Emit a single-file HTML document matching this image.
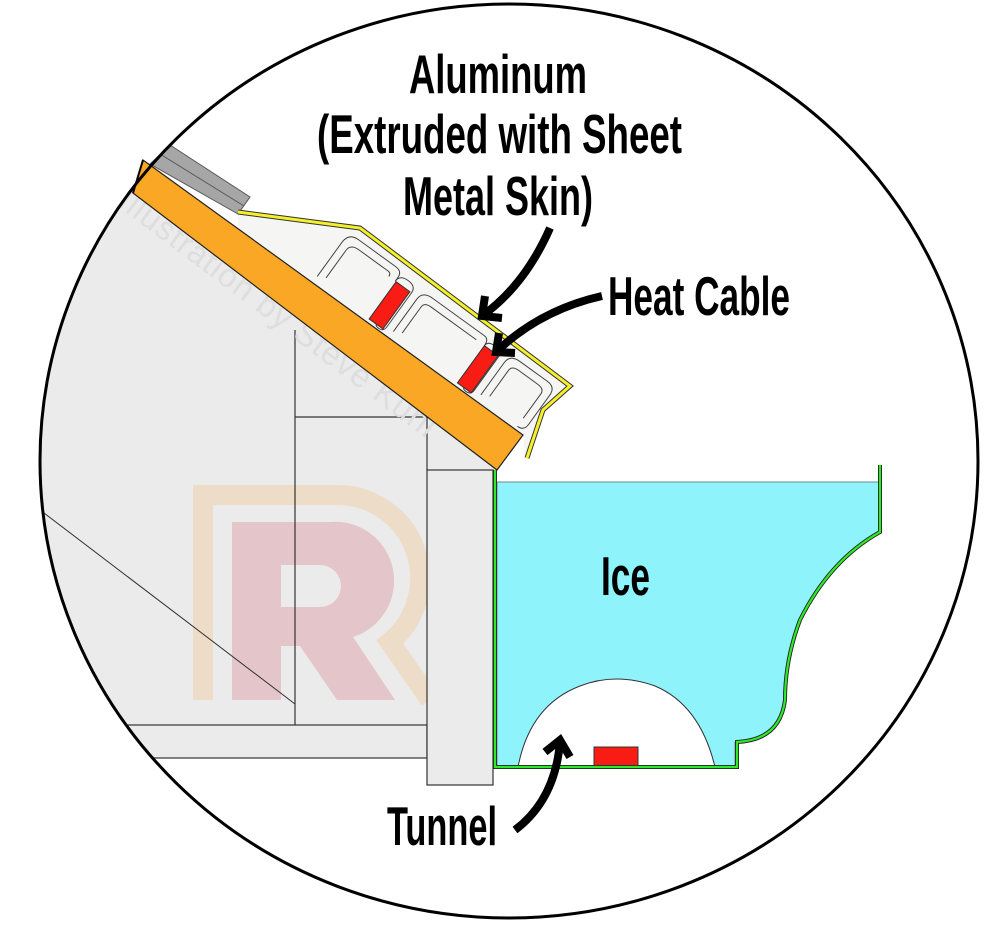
<!DOCTYPE html>
<html><head><meta charset="utf-8"><style>html,body{margin:0;padding:0;background:#fff}svg{display:block}</style></head>
<body>
<svg width="984" height="936" viewBox="0 0 984 936" xmlns="http://www.w3.org/2000/svg">
<defs>
<clipPath id="c"><ellipse cx="509" cy="461" rx="469" ry="457"/></clipPath>
</defs>
<g clip-path="url(#c)">
  <polygon points="0,100 143,160 497,470 427,470 427,758 0,758" fill="#ebebeb"/>
  <rect x="0" y="725" width="427" height="33" fill="#ebebeb" stroke="#333" stroke-width="1.2"/>
  <!-- watermark R -->
  <path d="M203,700 V495 H335 A83,83 0 0 1 390,642 L430,700" fill="none" stroke="#eddcc7" stroke-width="20"/>
  <path d="M232,700 V522 H330 A59,59 0 0 1 353,637 L395,700 H337 L300,646 H281 V700 Z M281,565 V607 H320 A21,21 0 0 0 320,565 Z" fill="#e3c5ca" fill-rule="evenodd"/>
  <line x1="295" y1="330" x2="295" y2="725" stroke="#333" stroke-width="1.2"/>
  <line x1="295" y1="417" x2="427" y2="417" stroke="#333" stroke-width="1.2"/>
  <line x1="427" y1="417" x2="427" y2="470" stroke="#333" stroke-width="1.2"/>
  <line x1="40" y1="510" x2="295" y2="704" stroke="#333" stroke-width="1"/>
  <rect x="427" y="470" width="66" height="315" fill="#ebebeb" stroke="#333" stroke-width="1.2"/>
</g>
<text x="0" y="0" transform="translate(116,205) rotate(37)" font-family="Liberation Sans, sans-serif" font-size="33" letter-spacing="1" fill="#dedede">Illustration by Steve Kuhl</text>
<!-- shingles -->
<polygon points="170,145 250,197 238,214 150,164" fill="#a6a6a6" stroke="#555" stroke-width="1"/>
<line x1="160" y1="154" x2="244" y2="206" stroke="#555" stroke-width="1"/>
<!-- gutter guard body -->
<polygon points="238,212 360,228 570,386 540,410 525,460 523,435 238,229" fill="#f5f5f3"/>
<polyline points="238,212 360,228 570,386 543,410 527,458" fill="none" stroke="#333" stroke-width="5"/>
<polyline points="238,212 360,228 570,386 543,410 527,458" fill="none" stroke="#f6f02a" stroke-width="3"/>
<!-- extrusion internals in local roof coords -->
<g transform="translate(238,229) rotate(35.9)">
  <g fill="none" stroke="#444" stroke-width="1">
    <path d="M92,-8 L92,-50 Q92,-62 104,-62 L150,-62 Q158,-62 158,-54 L158,-50"/>
    <path d="M100,-12 L100,-46 Q100,-54 110,-54 L146,-54 Q150,-54 150,-50"/>
    <path d="M158,-50 Q158,-58 168,-58 Q178,-58 178,-50 L178,-8 Q178,-2 172,-2 Q166,-2 168,-8"/>
    <path d="M186,-8 L186,-48 Q186,-58 198,-58 L262,-58 Q268,-58 268,-50"/>
    <path d="M194,-12 L194,-44 Q194,-50 202,-50 L258,-50"/>
    <path d="M268,-50 Q268,-56 277,-56 Q286,-56 286,-50 L286,-8 Q286,-2 280,-2 Q274,-2 276,-8"/>
    <path d="M294,-8 L294,-48 Q294,-58 306,-58 L340,-58 Q350,-58 350,-48 L350,-12 Q350,-4 342,-4"/>
    <path d="M302,-12 L302,-44 Q302,-50 310,-50 L334,-50 Q342,-50 342,-44 L342,-14"/>
  </g>
  <rect x="159" y="-50" width="17" height="46" fill="#f91c15" stroke="#333" stroke-width="1"/>
  <rect x="268" y="-50" width="17" height="46" fill="#f91c15" stroke="#333" stroke-width="1"/>
</g>
<!-- orange roof -->
<polygon points="143,160 523,435 497,470 133,193" fill="#fba726" stroke="#222" stroke-width="1.2"/>
<line x1="133" y1="193" x2="143" y2="160" stroke="#000" stroke-width="2"/>
<!-- ice gutter -->
<path d="M497,482 H880 V532 Q830,560 800,620 Q785,660 785,700 Q780,740 740,742 H735 V767 H497 Z" fill="#8ef3fb" stroke="#6a8a8f" stroke-width="1"/>
<path d="M518,767 Q530,705 580,686 Q616,672 655,686 Q700,705 715,767 Z" fill="#fff" stroke="#333" stroke-width="1"/>
<rect x="594" y="747" width="44" height="20" fill="#f91c15" stroke="#333" stroke-width="1"/>
<path d="M495,470 V767 H737 V742 Q780,740 785,700 Q785,660 800,620 Q830,560 880,532 V465" fill="none" stroke="#222" stroke-width="4"/>
<path d="M495,470 V767 H737 V742 Q780,740 785,700 Q785,660 800,620 Q830,560 880,532 V465" fill="none" stroke="#2ee82a" stroke-width="2.2"/>
<ellipse cx="509" cy="461" rx="469" ry="457" fill="none" stroke="#000" stroke-width="3"/>
<g fill="none" stroke="#000" stroke-width="8">
  <path d="M550,228 Q525,285 482,316"/>
  <polyline points="485,296 482,316 502,318"/>
  <path d="M602,296 Q540,310 496,352"/>
  <polyline points="499,333 496,352 515,353"/>
  <path d="M515,830 Q555,800 560,742"/>
  <polyline points="545,752 560,740 570,757"/>
</g>
<g font-family="Liberation Sans Narrow, Liberation Sans, sans-serif" font-weight="bold" font-size="55" fill="#000">
  <text x="409" y="93" textLength="178" lengthAdjust="spacingAndGlyphs">Aluminum</text>
  <text x="317" y="153" textLength="365" lengthAdjust="spacingAndGlyphs">(Extruded with Sheet</text>
  <text x="403" y="215" textLength="190" lengthAdjust="spacingAndGlyphs">Metal Skin)</text>
  <text x="608" y="315" textLength="182" lengthAdjust="spacingAndGlyphs">Heat Cable</text>
  <text x="601" y="595" textLength="49" lengthAdjust="spacingAndGlyphs">Ice</text>
  <text x="387" y="845" textLength="110" lengthAdjust="spacingAndGlyphs">Tunnel</text>
</g>
</svg>
</body></html>
